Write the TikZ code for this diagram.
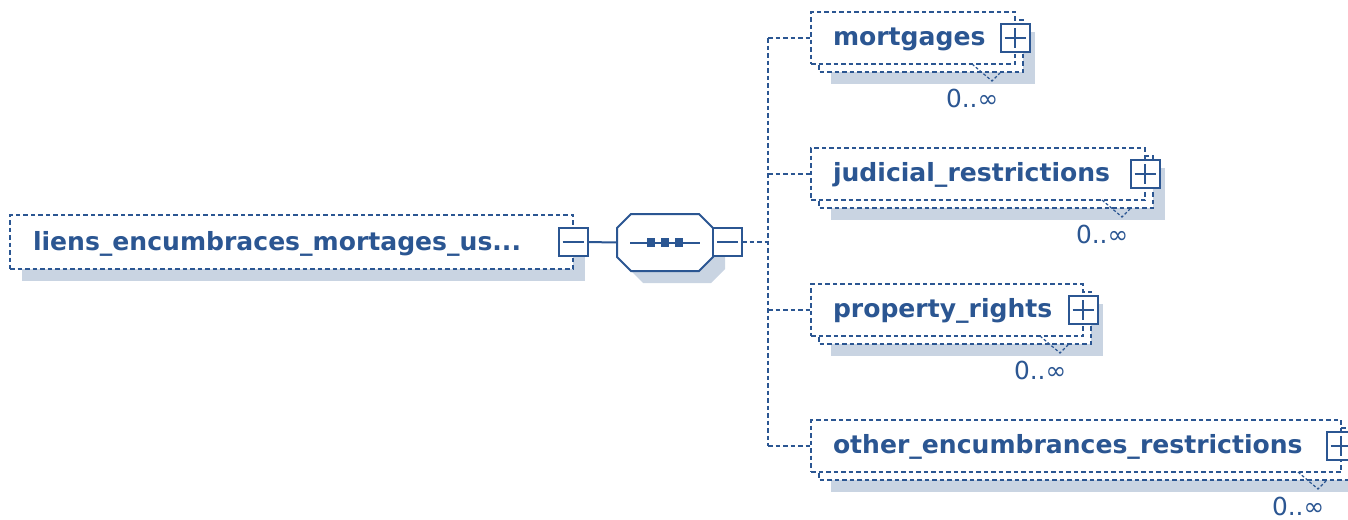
\documentclass[tikz,border=0pt]{standalone}
\usepackage{fontspec}
\setmainfont{DejaVu Sans}
\usetikzlibrary{calc}
\definecolor{xsblue}{RGB}{43,86,146}
\definecolor{xsshade}{RGB}{201,212,226}
\newdimen\pxu \pxu=0.75pt
\pgfdeclarelayer{shadow}
\pgfdeclarelayer{stack}
\pgfsetlayers{shadow,stack,main}
\begin{document}
\begin{tikzpicture}[x=0.75pt,y=-0.75pt,
  every node/.style={inner sep=0pt, outer sep=0pt},
  dashline/.style={draw=xsblue, line width=1.6\pxu, dash pattern=on 4.5\pxu off 3\pxu},
  solidline/.style={draw=xsblue, line width=2\pxu},
  elbox/.style={rectangle, dashline, fill=white, minimum height=52\pxu},
  ghost/.style={rectangle, draw=none, fill=none},
  tickline/.style={draw=xsblue, line width=1.2\pxu, dash pattern=on 3\pxu off 2\pxu},
  eltext/.style={text=xsblue, font=\bfseries\fontsize{18.8}{22}\selectfont},
  occtext/.style={text=xsblue, font=\fontsize{18.6}{22}\selectfont},
  pmbox/.style={rectangle, solidline, fill=white, minimum width=29\pxu, minimum height=28\pxu},
  minusbox/.style={pmbox, path picture={
      \draw[xsblue, line width=2\pxu]
        ([xshift=4\pxu]path picture bounding box.west) -- ([xshift=-4\pxu]path picture bounding box.east);}},
  plusbox/.style={pmbox, path picture={
      \draw[xsblue, line width=2\pxu]
        ([xshift=4\pxu]path picture bounding box.west) -- ([xshift=-4\pxu]path picture bounding box.east)
        ([yshift=-4\pxu]path picture bounding box.north) -- ([yshift=4\pxu]path picture bounding box.south);}},
]
\useasboundingbox (0,0) rectangle (1348,519);

% ---------- root element ----------
\node[elbox, minimum width=563\pxu, minimum height=54\pxu, anchor=west] (root) at (10,242) {};
\begin{pgfonlayer}{shadow}
  \fill[xsshade] ($(root.north west)+(12,12)$) rectangle ($(root.south east)+(12,12)$);
\end{pgfonlayer}
\node[eltext, anchor=base west] (rootT) at (33,250) {liens\_encumbraces\_mortages\_us...};
\node[minusbox] (rootM) at (root.east) {};

% ---------- sequence compositor ----------
\node[ghost, minimum width=96\pxu, minimum height=57\pxu] (seq) at (665,242.5) {};
\newcommand\octpath[1]{%
  ($(seq.north west)+(14+#1,#1)$) -- ($(seq.north east)+(-14+#1,#1)$) --
  ($(seq.north east)+(#1,14+#1)$) -- ($(seq.south east)+(#1,-14+#1)$) --
  ($(seq.south east)+(-14+#1,#1)$) -- ($(seq.south west)+(14+#1,#1)$) --
  ($(seq.south west)+(#1,-14+#1)$) -- ($(seq.north west)+(#1,14+#1)$) -- cycle}
\begin{pgfonlayer}{shadow}
  \fill[xsshade] \octpath{12};
\end{pgfonlayer}
\draw[solidline, fill=white] \octpath{0};
\draw[solidline] ($(seq.center)+(-35,0)$) -- ($(seq.center)+(35,0)$);
\foreach \dx in {-14,0,14}
  \fill[xsblue] ($(seq.center)+(\dx-4,-4.5)$) rectangle ($(seq.center)+(\dx+4,4.5)$);
\node[minusbox] (seqM) at (727.5,242) {};

\draw[solidline] (rootM.east) -- (seq.west);

% ---------- child elements ----------
\coordinate (bus) at (768,242);
\draw[dashline] (seqM.east) -- (bus);
\draw[dashline] (768,38) -- (768,446);

\newcommand\childel[5]{% name, row y, box width, right x, text
  \node[elbox, minimum width=#3\pxu, anchor=west] (#1) at (811,#2) {};
  \begin{pgfonlayer}{stack}
    \draw[dashline, fill=white] ($(#1.north west)+(8,8)$) rectangle ($(#1.south east)+(8,8)$);
  \end{pgfonlayer}
  \begin{pgfonlayer}{shadow}
    \fill[xsshade] ($(#1.north west)+(20,20)$) rectangle ($(#1.south east)+(20,20)$);
  \end{pgfonlayer}
  \node[eltext, anchor=base west] (#1T) at (833,#2+7.5) {#5};
  \node[plusbox] (#1P) at (#1.east) {};
  \draw[tickline] ($(#1.south east)+(-43,0)$) -- ($(#1.south east)+(-23,17)$) -- ($(#1.south east)+(-15,9)$);
  \node[occtext, anchor=base west] (#1O) at (#4-69,#2+69) {0..∞};
  \draw[dashline] (bus |- #1.west) -- (#1.west);
}
\childel{mort}{38}{204}{1015}{mortgages}
\childel{jud}{174}{334}{1145}{judicial\_restrictions}
\childel{prop}{310}{272}{1083}{property\_rights}
\childel{other}{446}{530}{1341}{other\_encumbrances\_restrictions}
\end{tikzpicture}
\end{document}
